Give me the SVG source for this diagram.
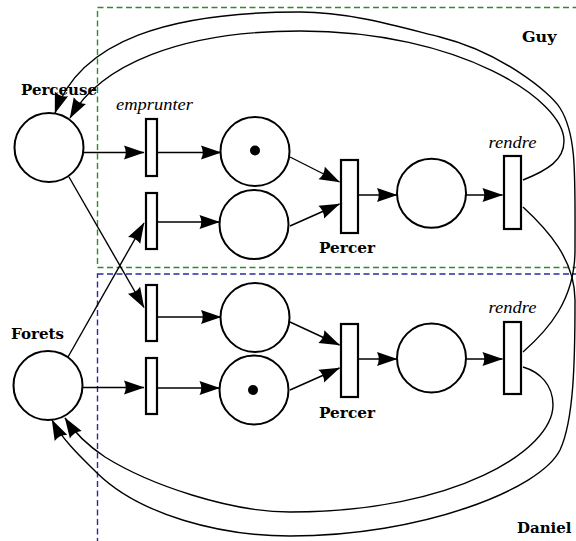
<svg xmlns="http://www.w3.org/2000/svg" width="576" height="541" viewBox="0 0 576 541">
<style>
  .place { fill: #ffffff; stroke: #000000; stroke-width: 2; }
  .trans { fill: #ffffff; stroke: #000000; stroke-width: 2.2; }
  .token { fill: #000000; stroke: none; }
  .arc { fill: none; stroke: #000000; stroke-width: 1.4; marker-end: url(#ah); }
  .zoneG { fill: none; stroke: #2a8c2a; stroke-width: 1.4; stroke-dasharray: 6 3.5; }
  .zoneB { fill: none; stroke: #2a2a9c; stroke-width: 1.4; stroke-dasharray: 6 3.5; }
  .bold { font-family: "DejaVu Serif", "Liberation Serif", serif; font-weight: bold; font-size: 15px; fill: #000; }
  .ital { font-family: "Liberation Serif", "DejaVu Serif", serif; font-style: italic; font-size: 17px; fill: #000; }
</style>
<defs>
  <marker id="ah" viewBox="-21 -8 22 16" refX="0" refY="0" markerWidth="22" markerHeight="16" markerUnits="userSpaceOnUse" orient="auto">
    <path d="M0.5,0 L-20,-7 Q-16.5,0 -20,7 Z" fill="#000000"/>
  </marker>
</defs>
<rect width="576" height="541" fill="#ffffff"/>

<g id="zones">
  <rect id="zone-guy" class="zoneG" x="97.5" y="7.5" width="500" height="260"/>
  <rect id="zone-daniel" class="zoneB" x="97.5" y="274" width="500" height="300"/>
</g>

<g id="connectors">
  <line class="arc" x1="84" y1="152.5" x2="144" y2="152.5"/>
  <line class="arc" x1="158" y1="152.5" x2="221" y2="152.5"/>
  <line class="arc" x1="158" y1="222" x2="219.5" y2="222"/>
  <line class="arc" x1="69" y1="177" x2="144" y2="307.5"/>
  <line class="arc" x1="68" y1="357" x2="144" y2="223"/>
  <line class="arc" x1="83" y1="387.5" x2="144" y2="387.5"/>
  <line class="arc" x1="158" y1="317" x2="221" y2="317"/>
  <line class="arc" x1="158" y1="388" x2="219.5" y2="388"/>
  <line class="arc" x1="290" y1="157" x2="339.5" y2="182"/>
  <line class="arc" x1="290" y1="226" x2="339.5" y2="204"/>
  <line class="arc" x1="290" y1="322" x2="339.5" y2="345"/>
  <line class="arc" x1="290" y1="390" x2="339.5" y2="368"/>
  <line class="arc" x1="359" y1="195" x2="397" y2="195"/>
  <line class="arc" x1="466" y1="195" x2="502.5" y2="195"/>
  <line class="arc" x1="358" y1="359" x2="397" y2="359"/>
  <line class="arc" x1="466" y1="359" x2="502.5" y2="359"/>
  <!-- rendre (Guy) -> Perceuse -->
  <path class="arc" d="M523,180 C548,170 564,160 564,141 C564,100 460,31 300,31 C180,31 100,65 70,118"/>
  <!-- rendre (Daniel) -> Perceuse -->
  <path class="arc" d="M523,352 C548,330 575,300 575,250 C575,175 577,135 560,108 C550,92 500,52 440,37 C400,27 350,12 300,12 C170,12 80,40 55,113"/>
  <!-- rendre (Guy) -> Forets -->
  <path class="arc" d="M523,207 C548,230 575,260 575,300 C575,360 574,420 560,450 C540,490 420,536 290,536 C220,536 140,515 97,473 C85,461 62,440 52,420"/>
  <!-- rendre (Daniel) -> Forets -->
  <path class="arc" d="M523,367 C540,372 553,385 553,405 C553,450 455,512 290,512 C230,512 150,485 105,457 C90,447 74,432 65,418"/>
</g>

<g id="perceuse"><circle class="place" cx="49" cy="147.5" r="34.5"/></g>
<g id="forets"><circle class="place" cx="48" cy="385.5" r="34.5"/></g>
<g id="guy-p1"><circle class="place" cx="255" cy="151.5" r="34.5"/><circle class="token" cx="255" cy="150.5" r="5"/></g>
<g id="guy-p2"><circle class="place" cx="254" cy="224.5" r="34.5"/></g>
<g id="guy-p3"><circle class="place" cx="431.5" cy="193.3" r="34.5"/></g>
<g id="daniel-p1"><circle class="place" cx="255" cy="317.5" r="34.5"/></g>
<g id="daniel-p2"><circle class="place" cx="254" cy="390" r="34.5"/><circle class="token" cx="253" cy="390" r="5"/></g>
<g id="daniel-p3"><circle class="place" cx="431.5" cy="358" r="34.5"/></g>

<g id="guy-emprunter1"><rect class="trans" x="146" y="119" width="11" height="57"/></g>
<g id="guy-emprunter2"><rect class="trans" x="146" y="193" width="11" height="56"/></g>
<g id="daniel-emprunter1"><rect class="trans" x="146" y="285" width="11" height="56"/></g>
<g id="daniel-emprunter2"><rect class="trans" x="146" y="358" width="11" height="56"/></g>
<g id="guy-percer"><rect class="trans" x="341" y="160" width="17" height="73"/></g>
<g id="daniel-percer"><rect class="trans" x="341" y="324" width="17" height="73"/></g>
<g id="guy-rendre"><rect class="trans" x="504" y="156" width="17" height="73"/></g>
<g id="daniel-rendre"><rect class="trans" x="504" y="322" width="17" height="72"/></g>

<g id="labels">
  <text class="bold" x="21" y="95" textLength="76" lengthAdjust="spacingAndGlyphs">Perceuse</text>
  <text class="bold" x="11" y="339" textLength="53" lengthAdjust="spacingAndGlyphs">Forets</text>
  <text class="bold" x="522" y="42" textLength="34.5" lengthAdjust="spacingAndGlyphs">Guy</text>
  <text class="bold" x="517" y="532.5" textLength="54.5" lengthAdjust="spacingAndGlyphs">Daniel</text>
  <text class="bold" x="319" y="252.5" textLength="56" lengthAdjust="spacingAndGlyphs">Percer</text>
  <text class="bold" x="319" y="418" textLength="56" lengthAdjust="spacingAndGlyphs">Percer</text>
  <text class="ital" x="116" y="110" textLength="77" lengthAdjust="spacingAndGlyphs">emprunter</text>
  <text class="ital" x="488.5" y="148" textLength="48" lengthAdjust="spacingAndGlyphs">rendre</text>
  <text class="ital" x="488.5" y="313" textLength="48" lengthAdjust="spacingAndGlyphs">rendre</text>
</g>
</svg>
